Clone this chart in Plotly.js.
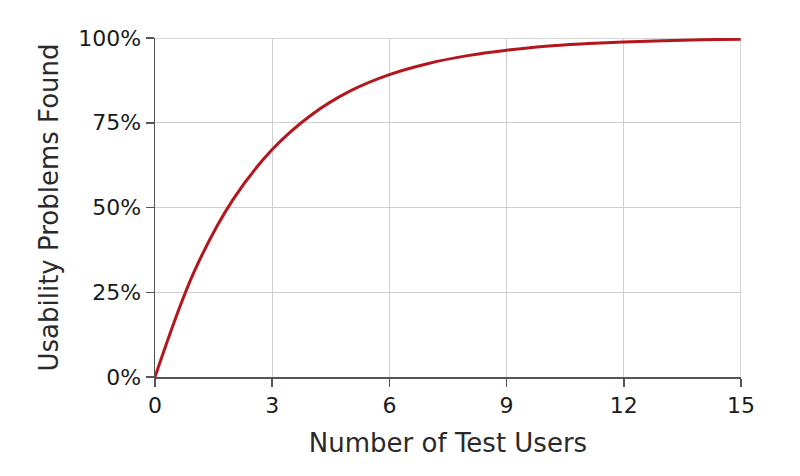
<!DOCTYPE html>
<html><head><meta charset="utf-8">
<script src="https://cdn.plot.ly/plotly-3.0.1.min.js"></script>
<style>html,body{margin:0;padding:0;background:#fff}#c{width:800px;height:476px}</style>
</head><body><div id="c"></div>
<script>
var users = [0,1,2,3,4,5,6,7,8,9,10,11,12,13,14,15];
var found = [0,0.31,0.524,0.671,0.773,0.844,0.892,0.925,0.948,0.964,0.976,0.983,0.988,0.992,0.995,0.996];
var xTicks = [0,3,6,9,12,15];
var yTicks = [0,0.25,0.5,0.75,1];
var yTickText = ['0%','25%','50%','75%','100%'];

Plotly.newPlot('c', [{
  x: users, y: found, type: 'scatter', mode: 'lines',
  line: {color: '#b3161c', width: 3, shape: 'spline', smoothing: 1},
  hoverinfo: 'skip'
}], {
  width: 800, height: 476,
  margin: {l: 155, r: 59, t: 38, b: 99},
  paper_bgcolor: '#fff', plot_bgcolor: '#fff',
  showlegend: false,
  font: {family: 'DejaVu Sans, Verdana, sans-serif', color: '#1a1a1a', size: 22},
  xaxis: {
    range: [0, 15], tickvals: xTicks, ticktext: xTicks.map(String),
    showgrid: true, gridcolor: '#cfcfcf', gridwidth: 1,
    showline: true, linecolor: '#555', linewidth: 1.5, mirror: false,
    ticks: 'outside', ticklen: 8, tickcolor: '#555', tickwidth: 1.5,
    zeroline: false, tickfont: {size: 22},
    title: {text: 'Number of Test Users', font: {size: 26, color: '#2a2a2a'}, standoff: 17}
  },
  yaxis: {
    range: [0, 1], tickvals: yTicks, ticktext: yTickText,
    showgrid: true, gridcolor: '#cfcfcf', gridwidth: 1,
    showline: true, linecolor: '#555', linewidth: 1.5,
    ticks: 'outside', ticklen: 8, tickcolor: '#555', tickwidth: 1.5,
    zeroline: false, tickfont: {size: 22},
    title: {text: 'Usability Problems Found', font: {size: 26, color: '#2a2a2a'}, standoff: 12}
  },
  shapes: [
    {type: 'line', xref: 'x', yref: 'paper', x0: 15, x1: 15, y0: 0, y1: 1, line: {color: '#aaa', width: 1}},
    {type: 'line', xref: 'paper', yref: 'y', x0: 0, x1: 1, y0: 1, y1: 1, line: {color: '#aaa', width: 1}, layer: 'below'}
  ]
}, {displayModeBar: false, staticPlot: true});
</script>
</body></html>
